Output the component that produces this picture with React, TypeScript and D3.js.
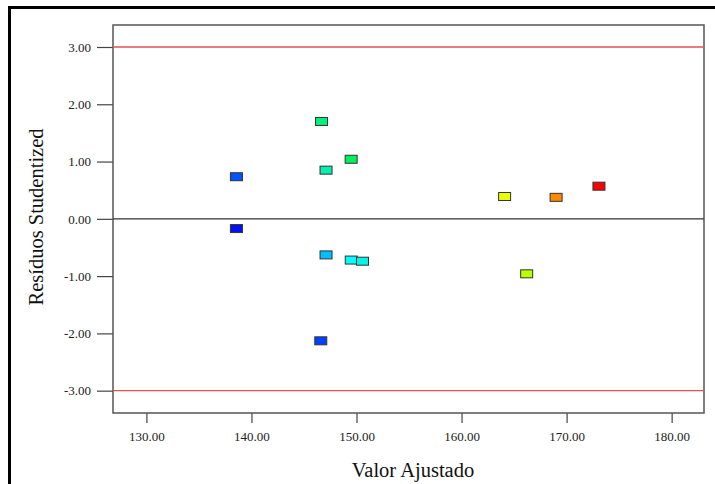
import React, { useEffect, useRef } from 'react';
import * as d3 from 'd3';

// values
const fitted = [146.67, 149.49, 147.1, 138.57, 138.57, 147.1, 149.5, 150.57, 146.6, 164.1, 169.0, 173.08, 166.2];
const residuals = [1.7, 1.04, 0.85, 0.735, -0.17, -0.63, -0.72, -0.74, -2.13, 0.39, 0.375, 0.57, -0.96];
const pointColors = [
  '#00f07c', '#00f060', '#00f0b0', '#0055ff', '#0010f0', '#00bfff', '#00ffff',
  '#00f4e8', '#0040ff', '#e8ff00', '#ff8800', '#ff0000', '#b8ff00',
];
const xTicks = [130, 140, 150, 160, 170, 180];
const yTicks = [-3, -2, -1, 0, 1, 2, 3];
const limits = [-3, 3];

// plain hyphen minus, like the original
const fmt = (v: number) => v.toFixed(2);

function App() {
  const ref = useRef<SVGSVGElement>(null);

  const width = 715;
  const height = 484;
  const margin = { top: 25, right: 11, bottom: 71, left: 113 };

  useEffect(() => {
    const svg = d3.select(ref.current);
    svg.selectAll('*').remove();

    const x = d3
      .scaleLinear()
      .domain([126.82, 183.08])
      .range([margin.left, width - margin.right]);
    const y = d3
      .scaleLinear()
      .domain([-3.39, 3.384])
      .range([height - margin.bottom, margin.top]);

    svg.append('rect').attr('width', width).attr('height', height).attr('fill', 'white');

    // outer frame (runs off the right and bottom edges)
    svg
      .append('rect')
      .attr('x', 9.5)
      .attr('y', 7.5)
      .attr('width', width + 20)
      .attr('height', height + 20)
      .attr('fill', 'none')
      .attr('stroke', 'black')
      .attr('stroke-width', 3);

    const font = '"Liberation Serif", "Times New Roman", serif';

    // y axis
    const yAxis = svg
      .append('g')
      .attr('transform', `translate(${margin.left},0)`)
      .call(
        d3
          .axisLeft(y)
          .tickValues(yTicks)
          .tickSize(16)
          .tickPadding(6)
          .tickFormat((d) => fmt(+d))
      );
    yAxis.attr('font-family', font).attr('font-size', 13);
    yAxis.select('.domain').remove();
    yAxis.selectAll('line').attr('stroke', '#444').attr('stroke-width', 1.2);
    yAxis.selectAll('text').attr('fill', '#222');

    // x axis
    const xAxis = svg
      .append('g')
      .attr('transform', `translate(0,${height - margin.bottom})`)
      .call(
        d3
          .axisBottom(x)
          .tickValues(xTicks)
          .tickSize(10)
          .tickPadding(9)
          .tickFormat((d) => fmt(+d))
      );
    xAxis.attr('font-family', font).attr('font-size', 13);
    xAxis.select('.domain').remove();
    xAxis.selectAll('line').attr('stroke', '#444').attr('stroke-width', 1.2);
    xAxis.selectAll('text').attr('fill', '#222');

    // plot frame
    svg
      .append('rect')
      .attr('x', margin.left)
      .attr('y', margin.top)
      .attr('width', width - margin.left - margin.right)
      .attr('height', height - margin.top - margin.bottom)
      .attr('fill', 'none')
      .attr('stroke', '#555')
      .attr('stroke-width', 1.5);

    // limit lines
    svg
      .selectAll('.limit')
      .data(limits)
      .enter()
      .append('line')
      .attr('class', 'limit')
      .attr('x1', margin.left)
      .attr('x2', width - margin.right)
      .attr('y1', (d) => y(d))
      .attr('y2', (d) => y(d))
      .attr('stroke', '#e45050')
      .attr('stroke-width', 1.3);

    // zero line
    svg
      .append('line')
      .attr('x1', margin.left)
      .attr('x2', width - margin.right)
      .attr('y1', y(0))
      .attr('y2', y(0))
      .attr('stroke', '#333')
      .attr('stroke-width', 1.3);

    // points
    const data = fitted.map((f, i) => ({ f, r: residuals[i], c: pointColors[i] }));
    svg
      .selectAll('.pt')
      .data(data)
      .enter()
      .append('rect')
      .attr('class', 'pt')
      .attr('x', (d) => x(d.f) - 6)
      .attr('y', (d) => y(d.r) - 4)
      .attr('width', 12)
      .attr('height', 8)
      .attr('fill', (d) => d.c)
      .attr('stroke', '#333')
      .attr('stroke-width', 1);

    // axis titles
    svg
      .append('text')
      .attr('x', 413)
      .attr('y', 477)
      .attr('text-anchor', 'middle')
      .attr('font-family', font)
      .attr('font-size', 20.5)
      .attr('fill', '#111')
      .text('Valor Ajustado');

    svg
      .append('text')
      .attr('transform', `translate(43,217) rotate(-90)`)
      .attr('text-anchor', 'middle')
      .attr('font-family', font)
      .attr('font-size', 20.5)
      .attr('fill', '#111')
      .text('Resíduos Studentized');
  }, []);

  return (
    <svg
      ref={ref}
      width={width}
      height={height}
      style={{ position: 'absolute', left: 0, top: 0, display: 'block' }}
    />
  );
}

export default App;
